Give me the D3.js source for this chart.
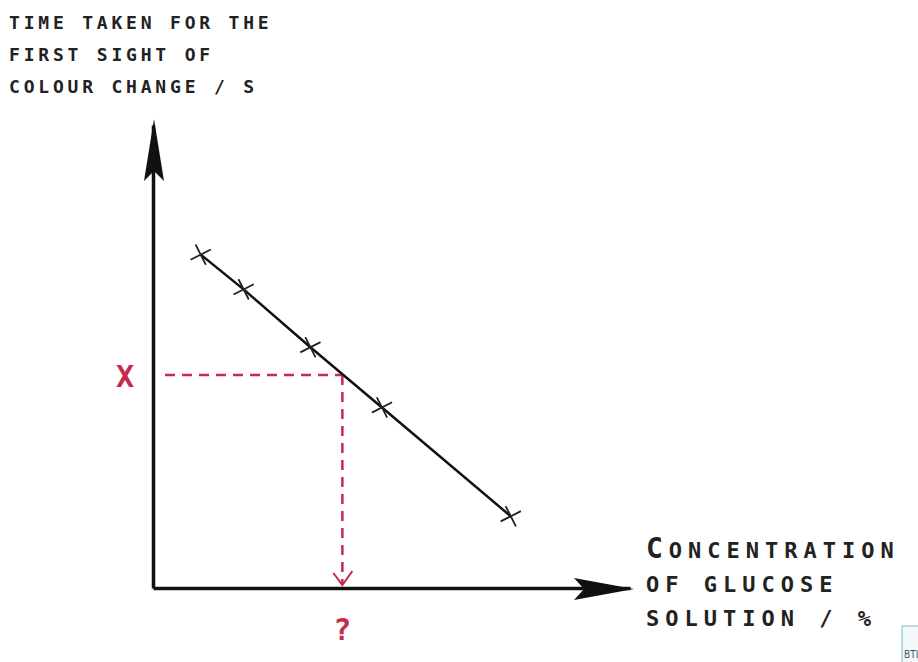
<!DOCTYPE html>
<html>
<head>
<meta charset="utf-8">
<script src="https://cdn.jsdelivr.net/npm/d3@7"></script>
<style>
  body { margin: 0; background: #fff; }
  .lbl { font-family: "DejaVu Sans Mono", monospace; font-weight: bold; fill: #222; }
</style>
</head>
<body>
<div id="chart-area"></div>
<script>
// values (arbitrary units, axes have no ticks)
var concentration = [1.0, 1.9, 3.3, 4.8, 7.5];
var timeTaken = [7.2, 6.45, 5.2, 3.9, 1.55];
var readX = 4.6;      // known time "X"
var readConc = 3.97;  // unknown concentration "?"

var yTitle = ["TIME TAKEN FOR THE", "FIRST SIGHT OF", "COLOUR CHANGE / S"];
var xTitle = ["CONCENTRATION", "OF GLUCOSE", "SOLUTION / %"];

var width = 918, height = 662;
var red = "#c62a4f";

var svg = d3.select("#chart-area").append("svg")
    .attr("width", width)
    .attr("height", height);

var x = d3.scaleLinear().domain([0, 10]).range([153, 630]);
var y = d3.scaleLinear().domain([0, 10]).range([588, 125]);

// x Axis
svg.append("g")
    .attr("transform", "translate(0, " + y(0) + ")")
    .call(d3.axisBottom(x).ticks(0).tickSizeOuter(0))
    .select(".domain")
        .attr("stroke", "#111")
        .attr("stroke-width", 3.5);

// y Axis
svg.append("g")
    .attr("transform", "translate(" + x(0) + ", 0)")
    .call(d3.axisLeft(y).ticks(0).tickSizeOuter(0))
    .select(".domain")
        .attr("stroke", "#111")
        .attr("stroke-width", 3.5);

// arrow heads
var ax = x(0) + 1, ay = y(10) - 6;
svg.append("path")
    .attr("d", "M" + ax + "," + ay + " L" + (ax - 10) + "," + (ay + 62) +
        " L" + ax + "," + (ay + 52) + " L" + (ax + 10) + "," + (ay + 62) + "Z")
    .attr("fill", "#111");

var bx = x(10) + 4, by = y(0) + 1;
svg.append("path")
    .attr("d", "M" + bx + "," + by + " L" + (bx - 60) + "," + (by - 11) +
        " L" + (bx - 50) + "," + by + " L" + (bx - 60) + "," + (by + 11) + "Z")
    .attr("fill", "#111");

// red dashed read-off lines
svg.append("line")
    .attr("x1", x(0) + 12).attr("y1", y(readX))
    .attr("x2", x(readConc)).attr("y2", y(readX))
    .attr("stroke", red).attr("stroke-width", 2.5)
    .attr("stroke-dasharray", "10,7");

svg.append("line")
    .attr("x1", x(readConc)).attr("y1", y(readX))
    .attr("x2", x(readConc)).attr("y2", y(0) - 4)
    .attr("stroke", red).attr("stroke-width", 2.5)
    .attr("stroke-dasharray", "10,7");

svg.append("path")
    .attr("d", "M" + (x(readConc) - 9) + "," + (y(0) - 15) + " L" + x(readConc) + "," + (y(0) - 3) +
        " L" + (x(readConc) + 10) + "," + (y(0) - 17))
    .attr("fill", "none").attr("stroke", red).attr("stroke-width", 2);

svg.append("text")
    .attr("x", x(0) - 28).attr("y", y(readX) + 12)
    .attr("text-anchor", "middle")
    .attr("font-family", "DejaVu Sans Mono")
    .attr("font-weight", "bold")
    .attr("font-size", 30).attr("fill", red)
    .text("X");

svg.append("text")
    .attr("x", x(readConc)).attr("y", y(0) + 52)
    .attr("text-anchor", "middle")
    .attr("font-family", "DejaVu Sans Mono")
    .attr("font-weight", "bold")
    .attr("font-size", 30).attr("fill", red)
    .text("?");

// best fit line
var pts = concentration.map((c, i) => ({ c: c, t: timeTaken[i] }));
svg.append("path")
    .datum(pts)
    .attr("d", d3.line().x((d) => x(d.c)).y((d) => y(d.t)))
    .attr("fill", "none")
    .attr("stroke", "#111")
    .attr("stroke-width", 2.5);

// crosses
svg.selectAll(".pt")
    .data(pts)
    .enter()
    .append("path")
        .attr("class", "pt")
        .attr("transform", (d) => "translate(" + x(d.c) + "," + y(d.t) + ") rotate(18)")
        .attr("d", d3.symbol().type(d3.symbolX).size(170))
        .attr("fill", "none")
        .attr("stroke", "#222")
        .attr("stroke-width", 1.8);

// y title
svg.selectAll(".yt")
    .data(yTitle)
    .enter()
    .append("text")
        .attr("class", "lbl")
        .attr("x", 9)
        .attr("y", (d, i) => 29 + i * 32)
        .attr("font-size", 18)
        .attr("letter-spacing", 3.8)
        .text((d) => d);

// x title
var xt = svg.selectAll(".xt")
    .data(xTitle)
    .enter()
    .append("text")
        .attr("class", "lbl")
        .attr("x", 646)
        .attr("y", (d, i) => 558 + i * 34)
        .attr("font-size", 22)
        .attr("letter-spacing", 6);

xt.filter((d, i) => i === 0)
    .append("tspan").attr("font-size", 28).text((d) => d.slice(0, 1));
xt.filter((d, i) => i === 0)
    .append("tspan").text((d) => d.slice(1));
xt.filter((d, i) => i > 0).text((d) => d);

// corner watermark
svg.append("rect")
    .attr("x", 902).attr("y", 626).attr("width", 20).attr("height", 40)
    .attr("fill", "#f4f8f9").attr("stroke", "#7fb8c2").attr("stroke-width", 1);
svg.append("text")
    .attr("x", 904).attr("y", 658)
    .attr("font-family", "DejaVu Sans Condensed")
    .attr("font-size", 10).attr("fill", "#356")
    .text("BTI");
</script>
</body>
</html>
